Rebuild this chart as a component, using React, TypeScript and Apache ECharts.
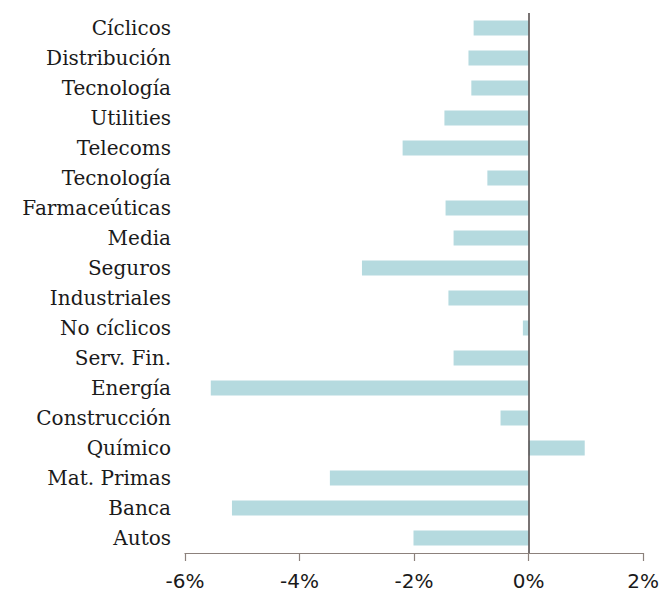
import React, { useEffect, useRef } from "react";
import * as echarts from "echarts";

const categories = [
  "Cíclicos",
  "Distribución",
  "Tecnología",
  "Utilities",
  "Telecoms",
  "Tecnología ",
  "Farmaceúticas",
  "Media",
  "Seguros",
  "Industriales",
  "No cíclicos",
  "Serv. Fin.",
  "Energía",
  "Construcción",
  "Químico",
  "Mat. Primas",
  "Banca",
  "Autos",
];

const values = [
  -0.96, -1.05, -1.0, -1.47, -2.2, -0.72, -1.45, -1.31, -2.91, -1.4, -0.1,
  -1.31, -5.55, -0.49, 0.98, -3.47, -5.18, -2.01,
];

const xTicks = [-6, -4, -2, 0, 2];

export default function App() {
  const ref = useRef<HTMLDivElement>(null);
  useEffect(() => {
    document.body.style.margin = "0";
    if (!ref.current) return;
    const chart = echarts.init(ref.current, null, { renderer: "svg" });
    const cats = [...categories].reverse();
    const vals = [...values].reverse();
    chart.setOption({
      animation: false,
      grid: { left: 185, right: 18, top: 13, bottom: 43, containLabel: false },
      xAxis: {
        type: "value",
        min: xTicks[0],
        max: xTicks[xTicks.length - 1],
        interval: 2,
        axisLine: { show: true, lineStyle: { color: "#8c817c", width: 1.2 } },
        axisTick: { show: true, length: 8, lineStyle: { color: "#8c817c", width: 1.2 } },
        splitLine: { show: false },
        axisLabel: {
          formatter: (v: number) => `${v}%`,
          color: "#1a1a1a",
          fontSize: 20,
          fontFamily: "DejaVu Sans",
          margin: 18,
          showMaxLabel: true,
        },
      },
      yAxis: {
        type: "category",
        data: cats,
        axisLine: { show: false },
        axisTick: { show: false },
        axisLabel: {
          color: "#1a1a1a",
          fontSize: 20,
          fontFamily: "DejaVu Serif",
          margin: 14,
          formatter: (v: string) => v.trim(),
        },
      },
      series: [
        {
          type: "bar",
          data: vals,
          barWidth: 15,
          itemStyle: { color: "#b5dadf" },
          markLine: {
            silent: true,
            symbol: "none",
            label: { show: false },
            lineStyle: { color: "#4d4444", width: 1.5, type: "solid" },
            data: [{ xAxis: 0 }],
          },
        },
      ],
    });
    return () => chart.dispose();
  }, []);
  return <div ref={ref} style={{ width: 662, height: 596 }} />;
}
